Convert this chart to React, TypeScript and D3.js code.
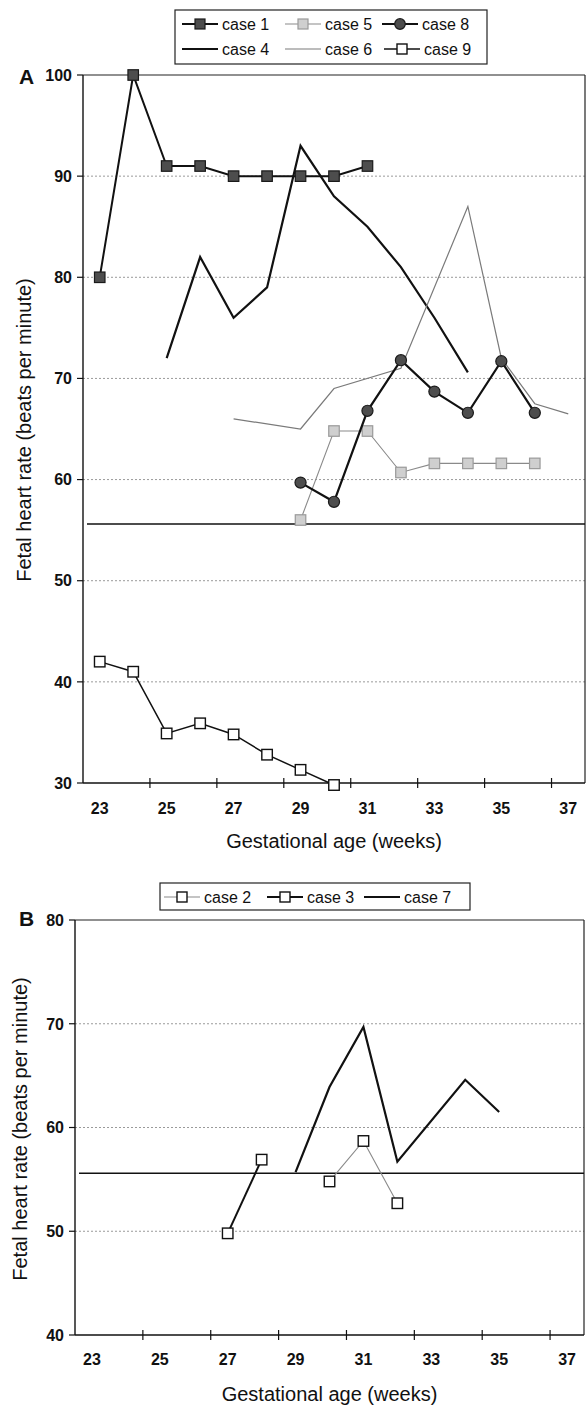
import React from 'react';
import * as d3 from 'd3';

// ---------- data ----------
const weeks = ['23', '24', '25', '26', '27', '28', '29', '30', '31', '32', '33', '34', '35', '36', '37'];
const xTickLabels = ['23', '25', '27', '29', '31', '33', '35', '37'];
const yTicksA = [30, 40, 50, 60, 70, 80, 90, 100];
const yTicksB = [40, 50, 60, 70, 80];
const referenceLevel = 55.6;

// Panel A (values per week 23..37, null = no measurement)
const case1 = [80, 100, 91, 91, 90, 90, 90, 90, 91, null, null, null, null, null, null];
const case4 = [null, null, 72, 82, 76, 79, 93, 88, 85, 81, 76, 70.6, null, null, null];
const case5 = [null, null, null, null, null, null, 56, 64.8, 64.8, 60.7, 61.6, 61.6, 61.6, 61.6, null];
const case6 = [null, null, null, null, 66, null, 65, 69, null, 71, null, 87, 72, 67.5, 66.5];
const case8 = [null, null, null, null, null, null, 59.7, 57.8, 66.8, 71.8, 68.7, 66.6, 71.7, 66.6, null];
const case9 = [42, 41, 34.9, 35.9, 34.8, 32.8, 31.3, 29.8, null, null, null, null, null, null, null];

// Panel B
const case2 = [null, null, null, null, null, null, null, 54.8, 58.7, 52.7, null, null, null, null, null];
const case3 = [null, null, null, null, 49.8, 56.9, null, null, null, null, null, null, null, null, null];
const case7 = [null, null, null, null, null, null, 55.7, 63.9, 69.7, 56.7, null, 64.6, 61.5, null, null];

type Marker = 'darkSquare' | 'lightSquare' | 'darkCircle' | 'whiteSquare' | 'none';
interface Series {
  name: string;
  values: (number | null)[];
  stroke: string;
  width: number;
  marker: Marker;
}

const seriesA: Series[] = [
  { name: 'case 1', values: case1, stroke: '#111', width: 2, marker: 'darkSquare' },
  { name: 'case 4', values: case4, stroke: '#111', width: 2.2, marker: 'none' },
  { name: 'case 5', values: case5, stroke: '#8a8a8a', width: 1.1, marker: 'lightSquare' },
  { name: 'case 6', values: case6, stroke: '#7a7a7a', width: 1.2, marker: 'none' },
  { name: 'case 8', values: case8, stroke: '#111', width: 2.2, marker: 'darkCircle' },
  { name: 'case 9', values: case9, stroke: '#111', width: 1.5, marker: 'whiteSquare' },
];

const seriesB: Series[] = [
  { name: 'case 2', values: case2, stroke: '#8a8a8a', width: 1.1, marker: 'whiteSquare' },
  { name: 'case 3', values: case3, stroke: '#111', width: 2, marker: 'whiteSquare' },
  { name: 'case 7', values: case7, stroke: '#111', width: 2.2, marker: 'none' },
];

const FONT = '"Liberation Sans", Arial, Helvetica, sans-serif';

function MarkerShape({ kind, cx, cy, size = 10 }: { kind: Marker; cx: number; cy: number; size?: number }) {
  const h = size / 2;
  if (kind === 'darkSquare')
    return <rect x={cx - h} y={cy - h} width={size} height={size} fill="#4d4d4d" stroke="#1a1a1a" strokeWidth={1.2} />;
  if (kind === 'lightSquare')
    return <rect x={cx - h} y={cy - h} width={size} height={size} fill="#cfcfcf" stroke="#9a9a9a" strokeWidth={1.2} />;
  if (kind === 'whiteSquare')
    return <rect x={cx - h} y={cy - h} width={size} height={size} fill="#fff" stroke="#111" strokeWidth={1.4} />;
  if (kind === 'darkCircle')
    return <circle cx={cx} cy={cy} r={h + 0.3} fill="#4d4d4d" stroke="#1a1a1a" strokeWidth={1.2} />;
  return null;
}

interface LegendItem { name: string; cx: number; cy: number; }

function Panel(props: {
  x0: number; x1: number; yTop: number; yBot: number;
  domain: [number, number]; ticks: number[]; series: Series[];
  letter: string; letterY: number;
  yTitleX: number; yTitleY: number;
  xLabelY: number; xTitleY: number;
  legendBox: { x: number; y: number; w: number; h: number };
  legendItems: LegendItem[];
}) {
  const { x0, x1, yTop, yBot, domain, ticks, series } = props;
  const x = d3.scaleBand<string>().domain(weeks).range([x0, x1]).paddingInner(0).paddingOuter(0);
  const bw = x.bandwidth();
  const cx = (w: string) => (x(w) as number) + bw / 2;
  const y = d3.scaleLinear().domain(domain).range([yBot, yTop]);

  const line = d3.line<{ w: string; v: number }>().x((d) => cx(d.w)).y((d) => y(d.v));
  const pts = (s: Series) =>
    s.values.map((v, i) => ({ w: weeks[i], v })).filter((d) => d.v !== null) as { w: string; v: number }[];

  const boundaryTicks = weeks.filter((_, i) => i > 0 && i % 2 === 0).map((w) => x(w) as number);

  return (
    <g>
      {/* gridlines */}
      {ticks.filter((t) => t !== domain[1] && t !== domain[0]).map((t) => (
        <line key={'g' + t} x1={x0} x2={x1} y1={y(t)} y2={y(t)} stroke="#9a9a9a" strokeWidth={1} strokeDasharray="2 2" />
      ))}
      {/* plot border top & right */}
      <line x1={x0} x2={x1} y1={yTop} y2={yTop} stroke="#222" strokeWidth={1.2} />
      <line x1={x1} x2={x1} y1={yTop} y2={yBot} stroke="#222" strokeWidth={1.2} />
      {/* reference level */}
      <line x1={x0 + 4} x2={x1} y1={y(referenceLevel)} y2={y(referenceLevel)} stroke="#111" strokeWidth={1.5} />
      {/* axes */}
      <line x1={x0} x2={x0} y1={yTop} y2={yBot} stroke="#111" strokeWidth={1.4} />
      <line x1={x0} x2={x1} y1={yBot} y2={yBot} stroke="#111" strokeWidth={1.4} />
      {ticks.map((t) => (
        <g key={'yt' + t}>
          <line x1={x0 - 6} x2={x0} y1={y(t)} y2={y(t)} stroke="#111" strokeWidth={1.2} />
          <text x={x0 - 11} y={y(t)} dy="0.36em" textAnchor="end" fontFamily={FONT} fontWeight="bold" fontSize={16} fill="#111">
            {t}
          </text>
        </g>
      ))}
      {boundaryTicks.map((bx, i) => (
        <line key={'xt' + i} x1={bx} x2={bx} y1={yBot - 5} y2={yBot + 5} stroke="#111" strokeWidth={1.2} />
      ))}
      {xTickLabels.map((l) => (
        <text key={'xl' + l} x={cx(l)} y={props.xLabelY} textAnchor="middle" fontFamily={FONT} fontWeight="bold" fontSize={16} fill="#111">
          {l}
        </text>
      ))}
      <text x={(x0 + x1) / 2} y={props.xTitleY} textAnchor="middle" fontFamily={FONT} fontSize={20} fill="#111">
        Gestational age (weeks)
      </text>
      <text transform={`translate(${props.yTitleX},${props.yTitleY}) rotate(-90)`} textAnchor="middle" fontFamily={FONT} fontSize={20} fill="#111">
        Fetal heart rate (beats per minute)
      </text>
      <text x={19} y={props.letterY} fontFamily={FONT} fontWeight="bold" fontSize={21} fill="#111">
        {props.letter}
      </text>

      {/* series */}
      {series.map((s) => (
        <g key={s.name}>
          <path d={line(pts(s)) || ''} fill="none" stroke={s.stroke} strokeWidth={s.width} strokeLinejoin="miter" />
          {s.marker !== 'none' &&
            pts(s).map((d, i) => <MarkerShape key={i} kind={s.marker} cx={cx(d.w)} cy={y(d.v)} size={10.5} />)}
        </g>
      ))}

      {/* legend */}
      <rect x={props.legendBox.x} y={props.legendBox.y} width={props.legendBox.w} height={props.legendBox.h} fill="#fff" stroke="#222" strokeWidth={1.2} />
      {props.legendItems.map((it) => {
        const s = series.find((q) => q.name === it.name)!;
        return (
          <g key={'lg' + it.name}>
            <line x1={it.cx - 18} x2={it.cx + 18} y1={it.cy} y2={it.cy} stroke={s.stroke} strokeWidth={s.width} />
            {s.marker !== 'none' && <MarkerShape kind={s.marker} cx={it.cx} cy={it.cy} size={10} />}
            <text x={it.cx + 22} y={it.cy} dy="0.36em" fontFamily={FONT} fontSize={16} fill="#111">
              {it.name}
            </text>
          </g>
        );
      })}
    </g>
  );
}

export default function App() {
  return (
    <svg width={586} height={1406} style={{ position: 'absolute', left: 0, top: 0, background: '#fff' }}>
      <rect x={0} y={0} width={586} height={1406} fill="#fff" />
      <Panel
        x0={83} x1={585} yTop={75} yBot={783}
        domain={[30, 100]} ticks={yTicksA} series={seriesA}
        letter="A" letterY={84}
        yTitleX={31} yTitleY={430}
        xLabelY={814} xTitleY={848}
        legendBox={{ x: 175, y: 10, w: 312, h: 54 }}
        legendItems={[
          { name: 'case 1', cx: 200, cy: 24 },
          { name: 'case 5', cx: 303, cy: 24 },
          { name: 'case 8', cx: 400, cy: 24 },
          { name: 'case 4', cx: 200, cy: 49 },
          { name: 'case 6', cx: 303, cy: 49 },
          { name: 'case 9', cx: 402, cy: 49 },
        ]}
      />
      <Panel
        x0={75} x1={584} yTop={920} yBot={1335}
        domain={[40, 80]} ticks={yTicksB} series={seriesB}
        letter="B" letterY={926}
        yTitleX={27} yTitleY={1129}
        xLabelY={1365} xTitleY={1401}
        legendBox={{ x: 160, y: 883, w: 310, h: 27 }}
        legendItems={[
          { name: 'case 2', cx: 182, cy: 897 },
          { name: 'case 3', cx: 285, cy: 897 },
          { name: 'case 7', cx: 382, cy: 897 },
        ]}
      />
    </svg>
  );
}
